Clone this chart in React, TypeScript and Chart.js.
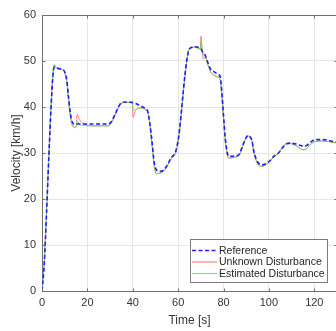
import React, { useEffect, useRef } from 'react';
import { Chart, registerables } from 'chart.js';

Chart.register(...registerables);

// ---- data ----
const timeS = [
  0, 1, 2, 3, 4, 4.7, 5.4, 6.5, 8, 9.4, 10.2, 10.9, 11.6, 12.3, 13, 13.8, 14.5, 15.1, 15.5, 16.2,
  17, 18, 19.5, 22, 26, 29, 30, 31, 32, 33, 34, 35, 37, 39.8, 40.2, 41, 42, 44, 45.5, 46.5,
  47.5, 48.4, 49.5, 50.5, 52, 53.5, 55, 56.4, 57.5, 58.7, 59.5, 60.2, 60.9, 61.6, 62.3, 63, 63.8, 64.5, 65.3, 67.5,
  69.7, 70.1, 70.5, 71.1, 71.9, 73, 74.1, 75.5, 77, 78.5, 79.2, 79.7, 80.2, 80.7, 81.5, 82.2, 84.4, 86, 87, 88,
  88.8, 90, 91, 92, 92.6, 93.2, 94.3, 95.4, 96.9, 99.1, 101, 102, 104.2, 106.4, 108.6, 110, 112.3, 115, 116.5, 118.2,
  120.4, 124, 128.5, 130,
];

const referenceKmh = [
  0, 6, 17, 29, 40, 46, 48.7, 48.5, 48.3, 48.1, 47.4, 45.9, 42.6, 39.3, 37.3, 36.4, 36.3, 36.3, 36.3, 36.3,
  36.3, 36.3, 36.3, 36.3, 36.3, 36.3, 36.5, 37.2, 38.2, 39.3, 40.3, 40.9, 41.1, 41.0, 40.9, 40.8, 40.6, 40.1, 39.7, 39.2,
  36.5, 32.8, 27.8, 26.3, 26.0, 26.2, 27.2, 28.5, 29.3, 30.0, 31.5, 33.5, 36.4, 40.0, 43.7, 47.0, 50.2, 52.0, 52.8, 53.1,
  52.8, 52.6, 52.2, 51.7, 51.3, 49.8, 48.4, 47.8, 47.3, 46.6, 43.5, 40.1, 36.8, 33.5, 30.5, 29.3, 29.3, 29.4, 29.8, 31.0,
  32.1, 33.4, 33.8, 33.3, 32.6, 30.7, 28.8, 27.8, 27.4, 27.8, 28.6, 29.2, 30.0, 31.4, 32.1, 32.1, 31.9, 31.5, 31.6, 32.3,
  32.9, 32.9, 32.5, 32.4,
];

const unknownKmh = [
  0, 6, 17, 29, 40, 46, 49.2, 48.4, 48.2, 48.0, 47.2, 45.5, 42.2, 38.8, 36.6, 35.7, 35.5, 35.9, 38.4, 37.6,
  36.9, 36.4, 36.1, 35.9, 35.9, 35.9, 36.1, 36.9, 38.0, 39.1, 40.2, 40.8, 41.0, 40.9, 37.8, 39.0, 39.6, 39.8, 39.4, 39.0,
  36.2, 32.3, 27.0, 25.5, 25.6, 26.0, 27.0, 28.3, 29.1, 29.8, 31.2, 33.2, 36.0, 39.6, 43.3, 46.7, 50.0, 52.0, 52.8, 53.0,
  52.6, 55.4, 52.5, 50.4, 50.8, 49.4, 47.8, 47.0, 46.6, 46.0, 43.0, 39.6, 36.2, 33.0, 30.0, 28.9, 29.0, 29.2, 29.6, 30.8,
  31.9, 33.3, 33.7, 33.2, 32.4, 30.5, 28.5, 27.4, 27.1, 27.6, 28.5, 29.1, 30.0, 31.5, 32.2, 32.0, 31.5, 30.7, 30.9, 31.8,
  32.5, 32.6, 32.3, 32.2,
];

const estimatedKmh = [
  0, 6.5, 17.5, 29.5, 41, 47, 49.2, 48.4, 48.2, 48.0, 47.2, 45.5, 42.2, 38.8, 36.6, 35.7, 35.6, 35.8, 37.0, 36.5,
  36.1, 36.0, 35.9, 35.9, 35.9, 35.9, 36.1, 36.9, 38.0, 39.1, 40.2, 40.8, 41.0, 40.9, 39.4, 39.3, 39.7, 39.8, 39.4, 39.0,
  36.2, 32.3, 27.0, 25.5, 25.6, 26.0, 27.0, 28.3, 29.1, 29.8, 31.2, 33.2, 36.0, 39.6, 43.3, 46.7, 50.0, 52.0, 52.8, 53.0,
  52.6, 54.2, 53.0, 51.5, 50.9, 49.4, 47.8, 47.0, 46.6, 46.0, 43.0, 39.6, 36.2, 33.0, 30.0, 28.9, 29.0, 29.2, 29.6, 30.8,
  31.9, 33.3, 33.7, 33.2, 32.4, 30.5, 28.5, 27.4, 27.1, 27.6, 28.5, 29.1, 30.0, 31.5, 32.2, 32.0, 31.5, 30.7, 30.9, 31.8,
  32.5, 32.6, 32.3, 32.2,
];

const xTicks = [0, 20, 40, 60, 80, 100, 120];
const yTicks = [0, 10, 20, 30, 40, 50, 60];

const seriesNames = ['Reference', 'Unknown Disturbance', 'Estimated Disturbance'];
const seriesColors = ['rgb(30,30,255)', 'rgba(255,90,90,0.75)', 'rgba(90,215,90,0.8)'];

const AXIS_COLOR = '#707070';
const TEXT_COLOR = '#333333';
const FONT_FAMILY = "'Liberation Sans', Arial, Helvetica, sans-serif";

const toPoints = (vals: number[]) => timeS.map((t, i) => ({ x: t, y: vals[i] }));

const boxPlugin = {
  id: 'matlabBox',
  afterDraw(chart: any) {
    const { ctx, chartArea } = chart;
    const { left, right, top, bottom } = chartArea;
    const xs = chart.scales.x;
    const ys = chart.scales.y;
    const a = (v: number) => Math.round(v) + 0.5;
    ctx.save();
    ctx.strokeStyle = AXIS_COLOR;
    ctx.lineWidth = 1;
    ctx.beginPath();
    // top and right edges
    ctx.moveTo(a(left), a(top));
    ctx.lineTo(a(right), a(top));
    ctx.lineTo(a(right), a(bottom));
    // inward ticks
    const tl = 3;
    xTicks.forEach((v) => {
      const px = a(xs.getPixelForValue(v));
      ctx.moveTo(px, a(bottom));
      ctx.lineTo(px, a(bottom) - tl);
      ctx.moveTo(px, a(top));
      ctx.lineTo(px, a(top) + tl);
    });
    yTicks.forEach((v) => {
      const py = a(ys.getPixelForValue(v));
      ctx.moveTo(a(left), py);
      ctx.lineTo(a(left) + tl, py);
      ctx.moveTo(a(right), py);
      ctx.lineTo(a(right) - tl, py);
    });
    ctx.stroke();

    // legend
    const lx = 190, ly = 239, lw = 137, lh = 43;
    ctx.fillStyle = '#ffffff';
    ctx.fillRect(lx, ly, lw, lh);
    ctx.strokeStyle = '#7a7a7a';
    ctx.strokeRect(lx + 0.5, ly + 0.5, lw, lh);
    const rows = [250.5, 262, 273.5];
    ctx.font = `10.5px ${FONT_FAMILY}`;
    ctx.textBaseline = 'middle';
    ctx.textAlign = 'left';
    rows.forEach((ry, i) => {
      ctx.beginPath();
      ctx.strokeStyle = seriesColors[i];
      ctx.lineWidth = i === 0 ? 1.6 : 1.2;
      ctx.setLineDash(i === 0 ? [4, 2.5] : []);
      ctx.moveTo(192, ry);
      ctx.lineTo(217, ry);
      ctx.stroke();
      ctx.setLineDash([]);
      ctx.fillStyle = '#262626';
      ctx.fillText(seriesNames[i], 219, ry + 0.5);
    });
    ctx.restore();
  },
};

export default function App() {
  const canvasRef = useRef<HTMLCanvasElement | null>(null);

  useEffect(() => {
    if (!canvasRef.current) return;
    const chart = new Chart(canvasRef.current, {
      type: 'line',
      data: {
        datasets: [
          {
            label: seriesNames[0],
            data: toPoints(referenceKmh),
            borderColor: seriesColors[0],
            borderWidth: 1.6,
            borderDash: [4, 2.5],
            pointRadius: 0,
            cubicInterpolationMode: 'monotone',
            order: 0,
          },
          {
            label: seriesNames[1],
            data: toPoints(unknownKmh),
            borderColor: seriesColors[1],
            borderWidth: 1,
            pointRadius: 0,
            cubicInterpolationMode: 'monotone',
            order: 2,
          },
          {
            label: seriesNames[2],
            data: toPoints(estimatedKmh),
            borderColor: seriesColors[2],
            borderWidth: 1,
            pointRadius: 0,
            cubicInterpolationMode: 'monotone',
            order: 1,
          },
        ],
      },
      options: {
        animation: false,
        responsive: false,
        devicePixelRatio: 1,
        layout: { padding: { top: 15, right: 1, left: 0, bottom: 0 } },
        plugins: { legend: { display: false }, tooltip: { enabled: false } },
        scales: {
          x: {
            type: 'linear',
            min: 0,
            max: 130,
            afterBuildTicks: (s: any) => {
              s.ticks = xTicks.map((v) => ({ value: v }));
            },
            afterFit: (s: any) => {
              s.height = 40;
            },
            grid: { color: '#e6e6e6', drawTicks: false, lineWidth: 1 },
            border: { display: true, color: AXIS_COLOR, width: 1 },
            ticks: {
              padding: 5,
              maxRotation: 0,
              color: TEXT_COLOR,
              font: { size: 11, family: FONT_FAMILY },
            },
            title: {
              display: true,
              text: 'Time [s]',
              color: TEXT_COLOR,
              font: { size: 12, family: FONT_FAMILY },
              padding: { top: 0, bottom: 3 },
            },
          },
          y: {
            type: 'linear',
            min: 0,
            max: 60,
            afterBuildTicks: (s: any) => {
              s.ticks = yTicks.map((v) => ({ value: v }));
            },
            afterFit: (s: any) => {
              s.width = 42;
            },
            grid: { color: '#e6e6e6', drawTicks: false, lineWidth: 1 },
            border: { display: true, color: AXIS_COLOR, width: 1 },
            ticks: {
              padding: 6,
              color: TEXT_COLOR,
              font: { size: 11, family: FONT_FAMILY },
            },
            title: {
              display: true,
              text: 'Velocity [km/h]',
              color: TEXT_COLOR,
              font: { size: 12, family: FONT_FAMILY },
              padding: { top: 9, bottom: 0 },
            },
          },
        },
      },
      plugins: [boxPlugin],
    } as any);
    return () => chart.destroy();
  }, []);

  return (
    <div
      style={{
        position: 'fixed',
        left: 0,
        top: 0,
        width: 336,
        height: 331,
        overflow: 'hidden',
        background: '#ffffff',
      }}
    >
      <canvas
        ref={canvasRef}
        width={338}
        height={331}
        style={{ display: 'block', width: 338, height: 331 }}
      />
    </div>
  );
}
